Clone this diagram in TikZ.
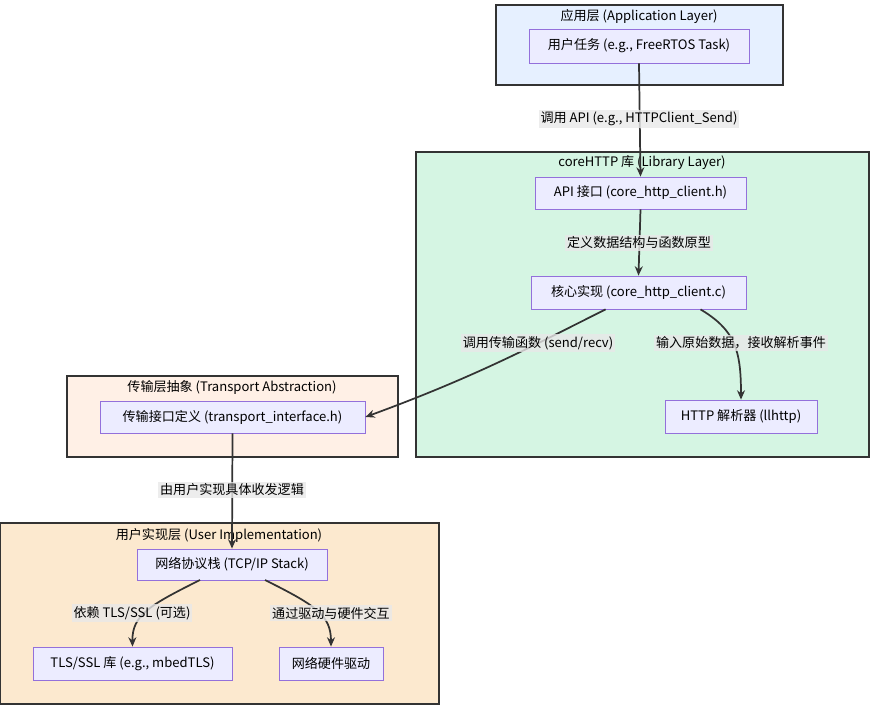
\documentclass[tikz,border=0pt]{standalone}
\usepackage{fontspec}
\setmainfont{Noto Sans CJK SC}
\usetikzlibrary{arrows.meta}
\definecolor{nodefill}{HTML}{ECECFF}
\definecolor{nodeborder}{HTML}{9370DB}
\definecolor{edge}{HTML}{333333}
\definecolor{lblbg}{HTML}{E8E8E8}
\begin{document}
\begin{tikzpicture}[x=0.75pt,y=-0.75pt,
  font=\fontsize{9.8}{12}\selectfont,
  grp/.style={draw=edge,line width=1.2pt},
  nd/.style={draw=nodeborder,fill=nodefill,line width=0.6pt,inner sep=0pt},
  lbl/.style={fill=lblbg,fill opacity=0.8,text opacity=1,inner sep=1.5pt},
  ar/.style={draw=edge,line width=1.3pt,-{Stealth[length=7pt,width=6pt]}}]
\path[use as bounding box] (0,0) rectangle (871,709);
% groups
\draw[grp,fill={rgb,255:red,230;green,240;blue,255}] (496,5) rectangle (783,85);
\node at (639,16) {应用层 (Application Layer)};
\draw[grp,fill={rgb,255:red,213;green,245;blue,227}] (416,152) rectangle (869,457);
\node at (642,163) {coreHTTP 库 (Library Layer)};
\draw[grp,fill={rgb,255:red,255;green,240;blue,230}] (67,376) rectangle (398,457);
\node at (232,387) {传输层抽象 (Transport Abstraction)};
\draw[grp,fill={rgb,255:red,252;green,233;blue,207}] (0,523) rectangle (439,704);
\node at (219,535) {用户实现层 (User Implementation)};
% nodes
\node[nd,minimum width=220*0.75pt,minimum height=34*0.75pt] (task) at (639,46) {用户任务 (e.g., FreeRTOS Task)};
\node[nd,minimum width=211*0.75pt,minimum height=32*0.75pt] (api) at (640.5,193) {API 接口 (core\_http\_client.h)};
\node[nd,minimum width=215*0.75pt,minimum height=33*0.75pt] (core) at (638.5,292.5) {核心实现 (core\_http\_client.c)};
\node[nd,minimum width=152*0.75pt,minimum height=33*0.75pt] (parser) at (741,416.5) {HTTP 解析器 (llhttp)};
\node[nd,minimum width=265*0.75pt,minimum height=32*0.75pt] (trans) at (232.5,417) {传输接口定义 (transport\_interface.h)};
\node[nd,minimum width=190*0.75pt,minimum height=31*0.75pt] (stack) at (232,564.5) {网络协议栈 (TCP/IP Stack)};
\node[nd,minimum width=199*0.75pt,minimum height=33*0.75pt] (tls) at (132.5,663.5) {TLS/SSL 库 (e.g., mbedTLS)};
\node[nd,minimum width=104*0.75pt,minimum height=33*0.75pt] (drv) at (331,663.5) {网络硬件驱动};
% edges
\draw[ar] (task.south) -- (api.north);
\node[lbl] at (639,119) {调用 API (e.g., HTTPClient\_Send)};
\draw[ar] (api.south) -- (core.north);
\node[lbl] at (639,243) {定义数据结构与函数原型};
\draw[ar] (core.south west)+(75,0) .. controls (538,343) and (480,375) .. (trans.east);
\node[lbl] at (538,343) {调用传输函数 (send/recv)};
\draw[ar] (core.south)+(62,0) .. controls (735,330) and (741,350) .. (parser.north);
\node[lbl] at (741,343) {输入原始数据，接收解析事件};
\draw[ar] (trans.south) -- (stack.north);
\node[lbl] at (232,490) {由用户实现具体收发逻辑};
\draw[ar] (200,580) .. controls (150,605) and (132,615) .. (tls.north);
\node[lbl] at (132,613) {依赖 TLS/SSL (可选)};
\draw[ar] (265,580) .. controls (315,605) and (331,615) .. (drv.north);
\node[lbl] at (331,613) {通过驱动与硬件交互};
\end{tikzpicture}
\end{document}
